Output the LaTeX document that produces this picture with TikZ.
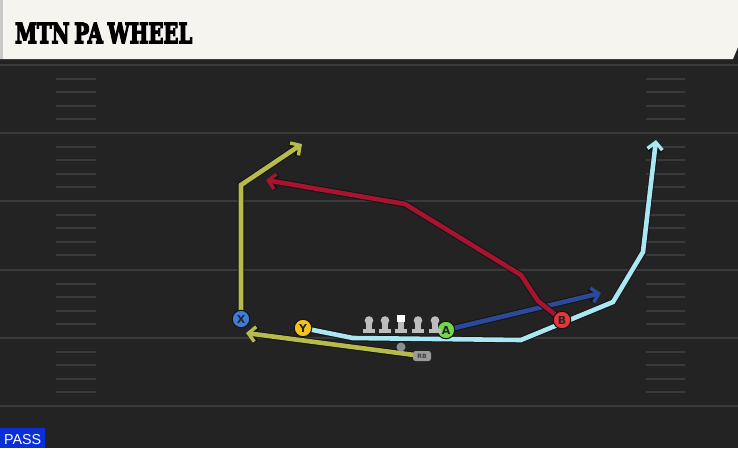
\documentclass[tikz,border=0pt]{standalone}
\usepackage{fontspec}
\setmainfont{DejaVu Sans}
\newfontfamily\titlefont{DejaVu Serif}[UprightFont={* Bold}, WordSpace=0.7]
\newfontfamily\passfont{Liberation Sans}
\usetikzlibrary{arrows.meta}
\pgfdeclarelayer{field}
\pgfdeclarelayer{routes}
\pgfsetlayers{field,routes,main}
\definecolor{bgdark}{HTML}{232323}
\definecolor{fieldline}{HTML}{3A3A3A}
\definecolor{hashc}{HTML}{3A3A3A}
\definecolor{header}{HTML}{F6F4EE}
\definecolor{headeredge}{HTML}{C8C8C8}
\definecolor{olive}{HTML}{B7BB4C}
\definecolor{routered}{HTML}{A8142F}
\definecolor{routeblue}{HTML}{2C4A9A}
\definecolor{lightblue}{HTML}{A9E8F3}
\definecolor{outl}{HTML}{141414}
\definecolor{px}{HTML}{3F7BDA}
\definecolor{py}{HTML}{F3C21C}
\definecolor{pa}{HTML}{6FD94A}
\definecolor{pb}{HTML}{E8343C}
\definecolor{lmgray}{HTML}{BDBDBD}
\definecolor{qbgray}{HTML}{8E8E8E}
\definecolor{rbgray}{HTML}{9A9A9A}
\definecolor{passblue}{HTML}{0B2FD6}
\newcommand\myroute[2]{%
  \draw[line width=6.6pt, draw=outl, -{Straight Barb[length=7pt,width=15pt,line width=5.4pt]}] #2;
  \draw[line width=4.6pt, draw=#1, -{Straight Barb[length=7pt,width=15pt,line width=3.4pt]}] #2;}
\tikzset{
  player/.style={circle, draw=outl, line width=1pt, fill=#1, minimum size=17.5pt,
    inner sep=0pt, text=black!85, font=\bfseries\fontsize{11}{11}\selectfont},
  lineman/.pic={
    \fill[lmgray] (-6,5) rectangle (6,9);
    \fill[lmgray] (-3,-3) rectangle (3,6);
    \fill[lmgray] (0,-3.5) circle (4.3);
  },
  center/.pic={
    \fill[lmgray] (-6,5) rectangle (6,9);
    \fill[lmgray] (-3,-2) rectangle (3,6);
    \fill[white] (-4,-9.5) rectangle (4,-2);
  },
}
\begin{document}
\begin{tikzpicture}[x=1pt,y=-1pt]
\useasboundingbox (0,0) rectangle (738,448);
\begin{pgfonlayer}{field}
  \fill[bgdark] (0,0) rectangle (738,448);
  \foreach \t in {65,133,201,270,338,406}
    \draw[fieldline, line width=2pt] (0,\t) -- (738,\t);
  \foreach \t in {65,133,201,270,338}
    \foreach \k in {1,2,3,4} {
      \draw[hashc, line width=2pt] (56,\t+13.6*\k) -- (96,\t+13.6*\k);
      \draw[hashc, line width=2pt] (646,\t+13.6*\k) -- (685,\t+13.6*\k);
    }
\end{pgfonlayer}
% header
\fill[header] (0,0) -- (738,0) -- (738,47) -- (733,59) -- (0,59) -- cycle;
\fill[headeredge] (0,0) rectangle (2.5,59);
\node[anchor=base west, inner sep=0pt] (title) at (15,43)
  {\resizebox{177pt}{20pt}{\special{pdf:literal direct 2 Tr 0.55 w}\titlefont MTN PA WHEEL\special{pdf:literal direct 0 Tr}}};
% pass label
\fill[passblue] (0,428) rectangle (45,448);
\node[anchor=base west, inner sep=0pt, text=white] (pass) at (4,444)
  {\resizebox{37pt}{10pt}{\passfont PASS}};
% players
\node[player=px] (X) at (241,319) {X};
\node[player=py] (Y) at (303,328) {Y};
\node[player=pa] (A) at (446,330) {A};
\node[player=pb] (B) at (562,320) {B};
\pic (lt) at (369,324) {lineman};
\pic (lg) at (385,324) {lineman};
\pic (c) at (401,324) {center};
\pic (rg) at (418,324) {lineman};
\pic (rt) at (435,324) {lineman};
\node[circle, fill=qbgray, minimum size=9pt, inner sep=0pt] (QB) at (401,347) {};
\node[fill=rbgray, rounded corners=2.5pt, minimum width=18pt, minimum height=10pt,
  inner sep=0pt, text=black!75, font=\bfseries\fontsize{6}{6}\selectfont] (RB) at (422,356) {RB};
% route ends
\coordinate (xend) at (302,144);
\coordinate (redend) at (266,180);
\coordinate (aend) at (601,293);
\coordinate (yend) at (656,140);
\coordinate (rbend) at (246,333);
\begin{pgfonlayer}{routes}
  \myroute{olive}{(RB.center) -- (rbend)}
  \myroute{lightblue}{(Y.center) -- (353,338) -- (521,340) -- (613,302) -- (643,252) -- (yend)}
  \myroute{routeblue}{(A.center) -- (aend)}
  \myroute{routered}{(B.center) -- (538,301) -- (521,275) -- (405,204) -- (redend)}
  \myroute{olive}{(X.center) -- (241,185) -- (xend)}
\end{pgfonlayer}
\end{tikzpicture}
\end{document}
